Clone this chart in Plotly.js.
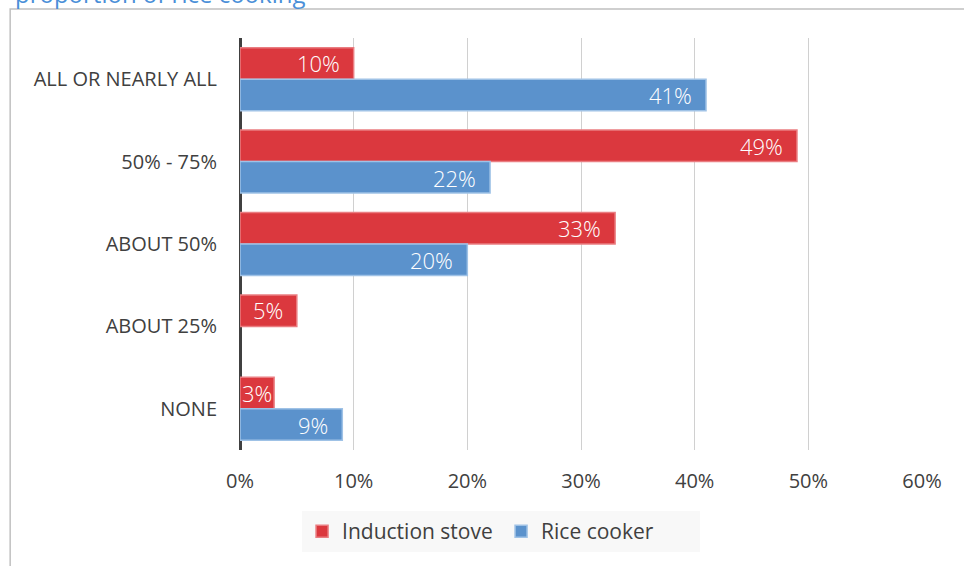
<!DOCTYPE html>
<html>
<head>
<meta charset="utf-8">
<script src="https://cdn.plot.ly/plotly-3.0.1.min.js"></script>
<style>html,body{margin:0;padding:0;background:#fff;}#chart{width:964px;height:566px;}</style>
</head>
<body>
<div id="chart"></div>
<script>
const categories = ['ALL OR NEARLY ALL', '50% - 75%', 'ABOUT 50%', 'ABOUT 25%', 'NONE'];
const inductionStove = [10, 49, 33, 5, 3];
const riceCooker = [41, 22, 20, null, 9];
const seriesNames = ['Induction stove', 'Rice cooker'];
const xTickValues = [0, 10, 20, 30, 40, 50, 60];
const xTickLabels = ['0%', '10%', '20%', '30%', '40%', '50%', '60%'];
const titleText = 'proportion of rice cooking';

const FONT = '"Open Sans", "Noto Sans", "DejaVu Sans", sans-serif';
const RED = '#db383e', RED_LINE = '#ea7d81';
const BLUE = '#5b92cc', BLUE_LINE = '#9fc2e6';

const traces = [
  {
    type: 'bar', orientation: 'h', name: seriesNames[0],
    y: categories, x: inductionStove,
    marker: {color: RED, line: {color: RED_LINE, width: 1.5}},
    hoverinfo: 'x+y'
  },
  {
    type: 'bar', orientation: 'h', name: seriesNames[1],
    y: categories, x: riceCooker,
    marker: {color: BLUE, line: {color: BLUE_LINE, width: 1.5}},
    hoverinfo: 'x+y'
  }
];

// data labels (white, inside end)
const annotations = [];
[[inductionStove, 0], [riceCooker, 1]].forEach(([vals, ti]) => {
  vals.forEach((v, i) => {
    if (v === null || v === undefined) return;
    const narrow = v < 4;
    annotations.push({
      x: narrow ? v / 2 : v, y: categories[i], xref: 'x', yref: 'y',
      text: v + '%', showarrow: false,
      xanchor: narrow ? 'center' : 'right', xshift: narrow ? 0 : -12,
      yshift: ti === 0 ? 16 : -16,
      font: {family: FONT, size: 22, color: '#ffffff', weight: 300}
    });
  });
});
annotations.push({
  xref: 'paper', yref: 'paper', x: -0.3335, y: 1.062, xanchor: 'left', yanchor: 'bottom',
  text: titleText, showarrow: false,
  font: {family: FONT, size: 24, color: '#4a8fd8'}
});

const layout = {
  width: 964, height: 566,
  margin: {l: 240, r: 42, t: 38, b: 116, pad: 0},
  paper_bgcolor: '#ffffff', plot_bgcolor: '#ffffff',
  font: {family: FONT, color: '#404040'},
  barmode: 'group', bargap: 0.235, bargroupgap: 0,
  showlegend: true,
  legend: {
    orientation: 'h', x: 0.091, y: -0.148, xanchor: 'left', yanchor: 'top',
    bgcolor: '#f8f8f8', font: {family: FONT, size: 21, color: '#404040'},
    itemclick: false, entrywidth: 154, entrywidthmode: 'pixels'
  },
  xaxis: {
    range: [0, 60], tickvals: xTickValues, ticktext: xTickLabels,
    showgrid: true, gridcolor: '#d0d0d0', gridwidth: 1,
    zeroline: true, zerolinecolor: '#404040', zerolinewidth: 3,
    showline: false, ticks: '', ticklabelstandoff: 17,
    tickfont: {family: FONT, size: 20, color: '#404040'},
    fixedrange: true
  },
  yaxis: {
    type: 'category', autorange: 'reversed',
    showgrid: false, zeroline: false, showline: false, ticks: '',
    ticklabelstandoff: 22,
    tickfont: {family: FONT, size: 20, color: '#404040'},
    fixedrange: true
  },
  shapes: [{
    type: 'rect', xref: 'paper', yref: 'paper',
    x0: -0.337, x1: 1.2, y0: -0.4, y1: 1.0705,
    line: {color: '#c0c0c0', width: 1.5}, fillcolor: 'rgba(0,0,0,0)', layer: 'below'
  }],
  annotations: annotations
};

Plotly.newPlot('chart', traces, layout, {displayModeBar: false, staticPlot: true});
</script>
</body>
</html>
